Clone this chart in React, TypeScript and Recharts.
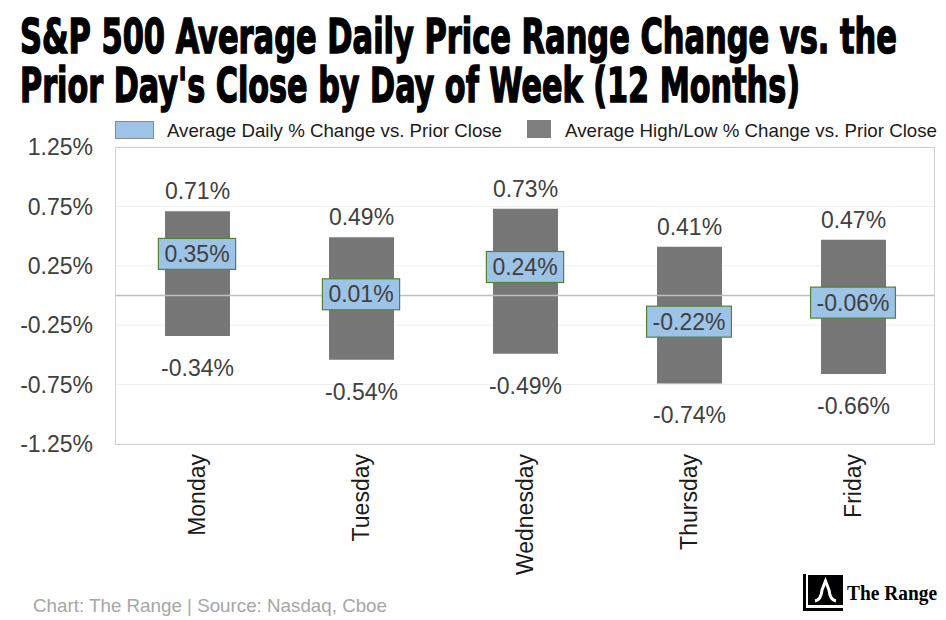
import {
  Bar,
  CartesianGrid,
  ComposedChart,
  LabelList,
  ReferenceLine,
  Scatter,
  XAxis,
  YAxis,
} from "recharts";

const days = ["Monday", "Tuesday", "Wednesday", "Thursday", "Friday"];
const avgChange = [0.35, 0.01, 0.24, -0.22, -0.06];
const highChange = [0.71, 0.49, 0.73, 0.41, 0.47];
const lowChange = [-0.34, -0.54, -0.49, -0.74, -0.66];
const yTicks = [-1.25, -0.75, -0.25, 0.25, 0.75, 1.25];

const data = days.map((day, i) => ({
  day,
  avg: avgChange[i],
  high: highChange[i],
  low: lowChange[i],
  range: [lowChange[i], highChange[i]],
}));

const FONT = "'Liberation Sans', Arial, sans-serif";
const fmt = (v: number) => `${v.toFixed(2)}%`;

// rough Arial widths at 23px, used to size the blue boxes
const charW: Record<string, number> = { ".": 6.4, "%": 20.45, "-": 7.66 };
const textWidth = (s: string) =>
  s.split("").reduce((w, c) => w + (charW[c] ?? 12.79), 0);

const HighLabel = (props: any) => {
  const { x, y, width, height, value } = props;
  const top = Math.min(y, y + height);
  return (
    <text
      x={x + width / 2}
      y={top - 20}
      textAnchor="middle"
      dominantBaseline="central"
      fontSize={23}
      fontFamily={FONT}
      fill="#404040"
    >
      {fmt(value)}
    </text>
  );
};

const LowLabel = (props: any) => {
  const { x, y, width, height, value } = props;
  const bottom = Math.max(y, y + height);
  return (
    <text
      x={x + width / 2}
      y={bottom + 32}
      textAnchor="middle"
      dominantBaseline="central"
      fontSize={23}
      fontFamily={FONT}
      fill="#404040"
    >
      {fmt(value)}
    </text>
  );
};

const AvgBox = (props: any) => {
  const { cx, cy, payload } = props;
  const label = fmt(payload.avg);
  const w = textWidth(label) + 12;
  return (
    <g>
      <rect
        x={cx - w / 2}
        y={cy - 15.5}
        width={w}
        height={31}
        fill="#9dc3e6"
        stroke="#548235"
        strokeWidth={1.2}
      />
      <text
        x={cx}
        y={cy}
        textAnchor="middle"
        dominantBaseline="central"
        fontSize={23}
        fontFamily={FONT}
        fill="#404040"
      >
        {label}
      </text>
    </g>
  );
};

const DayTick = ({ x, y, payload }: any) => (
  <text
    x={x}
    y={y}
    transform={`rotate(-90 ${x} ${y})`}
    textAnchor="end"
    dy="0.35em"
    fontSize={23}
    fontFamily={FONT}
    fill="#1a1a1a"
  >
    {payload.value}
  </text>
);

const TITLE_FONT =
  "'Liberation Sans Narrow', 'DejaVu Sans Condensed', 'Arial Narrow', sans-serif";

export default function App() {
  return (
    <div
      style={{
        position: "absolute",
        left: 0,
        top: 0,
        width: 946,
        height: 620,
        background: "#fff",
      }}
    >
      <ComposedChart
        width={946}
        height={620}
        data={data}
        margin={{ top: 147, right: 11, left: 15, bottom: 56 }}
      >
        <CartesianGrid stroke="#efefef" vertical={false} />
        <XAxis
          dataKey="day"
          axisLine={false}
          tickLine={false}
          tickSize={0}
          tickMargin={10}
          height={120}
          interval={0}
          tick={<DayTick />}
        />
        <YAxis
          domain={[-1.25, 1.25]}
          ticks={yTicks}
          tickFormatter={fmt}
          width={100}
          axisLine={false}
          tickLine={false}
          tickSize={0}
          tickMargin={22}
          tick={{ fontSize: 23, fill: "#404040", fontFamily: FONT }}
        />
        <Bar dataKey="range" fill="#777777" barSize={65} isAnimationActive={false}>
          <LabelList dataKey="high" content={<HighLabel />} />
          <LabelList dataKey="low" content={<LowLabel />} />
        </Bar>
        <ReferenceLine y={0} stroke="#bfbfbf" strokeWidth={1.5} />
        <Scatter dataKey="avg" shape={<AvgBox />} isAnimationActive={false} />
      </ComposedChart>

      <svg
        width={946}
        height={620}
        style={{ position: "absolute", left: 0, top: 0, pointerEvents: "none" }}
      >
        <g
          fontFamily={TITLE_FONT}
          fontWeight="bold"
          fontSize={30}
          fill="#000"
          stroke="#000"
          strokeWidth={0.9}
        >
          <text
            x={0}
            y={0}
            transform="translate(20 53) scale(1 1.62)"
            textLength={877}
            lengthAdjust="spacingAndGlyphs"
          >
            S&amp;P 500 Average Daily Price Range Change vs. the
          </text>
          <text
            x={0}
            y={0}
            transform="translate(20 102) scale(1 1.62)"
            textLength={780}
            lengthAdjust="spacingAndGlyphs"
          >
            Prior Day's Close by Day of Week (12 Months)
          </text>
        </g>

        <rect x={115.5} y={121.5} width={38} height={17} fill="#9dc3e6" stroke="#8a8a8a" />
        <text x={167} y={137} fontSize={19} fontFamily={FONT} fill="#1a1a1a" textLength={335} lengthAdjust="spacingAndGlyphs">
          Average Daily % Change vs. Prior Close
        </text>
        <rect x={527} y={120} width={24} height={18} fill="#7f7f7f" />
        <text x={565} y={137} fontSize={19} fontFamily={FONT} fill="#1a1a1a" textLength={372} lengthAdjust="spacingAndGlyphs">
          Average High/Low % Change vs. Prior Close
        </text>

        <rect x={115.5} y={147.5} width={819} height={297} fill="none" stroke="#d0d0d0" />

        <text x={33} y={612} fontSize={19} fontFamily={FONT} fill="#a6a6a6" textLength={354} lengthAdjust="spacingAndGlyphs">
          Chart: The Range | Source: Nasdaq, Cboe
        </text>

        <rect x={803} y={574} width={3} height={37} fill="#000" />
        <rect x={803} y={608} width={40} height={3} fill="#000" />
        <rect x={808} y={575} width={35} height={30} fill="#000" />
        <path
          d="M815 601 Q821 600 822 590 L825.5 581 L829 590 Q830 600 836 601"
          fill="none"
          stroke="#fff"
          strokeWidth={3}
        />
        <text
          x={847}
          y={600}
          fontSize={20}
          fontWeight="bold"
          fontFamily="'Liberation Serif', 'DejaVu Serif', serif"
          fill="#000"
          textLength={90}
          lengthAdjust="spacingAndGlyphs"
        >
          The Range
        </text>
      </svg>
    </div>
  );
}
